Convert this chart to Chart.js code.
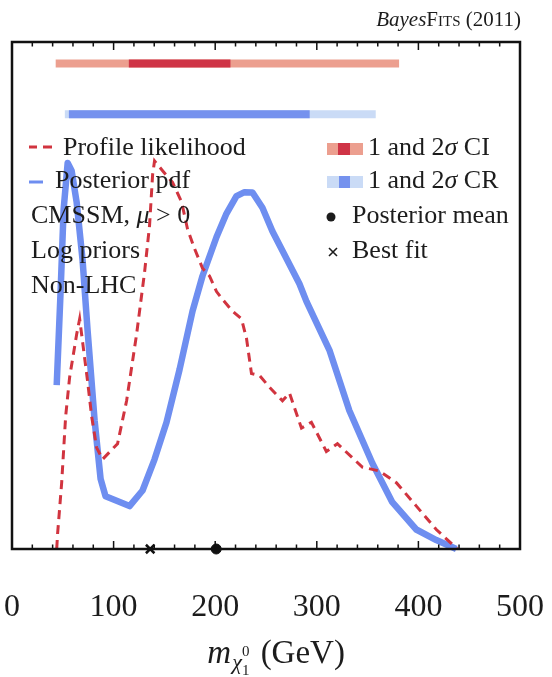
<!DOCTYPE html>
<html>
<head>
<meta charset="utf-8">
<script src="https://cdn.jsdelivr.net/npm/chart.js@4.4.1/dist/chart.umd.min.js"></script>
<style>
  html, body { margin: 0; padding: 0; background: #fff; }
  #wrap { width: 552px; height: 677px; }
</style>
</head>
<body>
<div id="wrap"><canvas id="chart-neutralino" width="552" height="677"></canvas></div>
<script>
// neutralino mass (GeV) and relative profile likelihood
const likelihoodMass = [44, 44.9, 48.9, 52.8, 56.7, 63.6, 66.6, 74.4, 78.4, 83.3, 89.2, 103.9, 112.8, 122.6, 130.5, 135.4, 138.4, 140.3, 148.2, 158, 166.9, 172.8, 179.7, 187.5, 194.4, 201.3, 207.2, 217, 225.9, 230.8, 235.7, 243.6, 253.4, 266.2, 273.1, 284.9, 294.7, 309.4, 320.3, 344.8, 361.6, 378.3, 398, 417.6, 438.3];
const likelihoodValue = [0, 0.04, 0.17, 0.34, 0.44, 0.55, 0.59, 0.43, 0.34, 0.26, 0.23, 0.27, 0.38, 0.55, 0.71, 0.83, 0.96, 0.995, 0.97, 0.94, 0.89, 0.82, 0.77, 0.72, 0.7, 0.66, 0.64, 0.61, 0.59, 0.54, 0.45, 0.445, 0.415, 0.38, 0.4, 0.31, 0.325, 0.25, 0.27, 0.21, 0.2, 0.17, 0.11, 0.05, 0];

// neutralino mass (GeV) and marginal posterior pdf
const posteriorMass = [44, 47.9, 50.8, 54.8, 58.7, 63.6, 69.5, 74.4, 81.3, 87.2, 92.1, 115.7, 128.5, 140.3, 152.1, 164.9, 177.7, 187.5, 201.3, 211.1, 220.9, 228.8, 236.7, 246.5, 256.3, 266.2, 282.9, 289.8, 312.4, 332, 354.7, 374.3, 397.9, 417.6, 437.3];
const posteriorValue = [0.42, 0.665, 0.87, 0.99, 0.97, 0.89, 0.74, 0.56, 0.33, 0.18, 0.135, 0.11, 0.15, 0.23, 0.325, 0.46, 0.61, 0.7, 0.8, 0.86, 0.905, 0.915, 0.914, 0.875, 0.815, 0.765, 0.68, 0.635, 0.51, 0.355, 0.22, 0.12, 0.05, 0.023, 0];

// 1 and 2 sigma intervals [from, to] in GeV
const ci1Sigma = [115, 215];
const ci2Sigma = [43, 381];
const cr1Sigma = [56, 293];
const cr2Sigma = [52, 358];
const ciRow = 1.245;
const crRow = 1.115;

// point estimates (GeV)
const posteriorMean = 201;
const bestFit = 136;

const xTicks = [0, 100, 200, 300, 400, 500];

const SERIF = '"Liberation Serif", "DejaVu Serif", serif';
const RED = "#d1343f";
const BLUE = "#6e8ef0";

function toPoints(xs, ys) {
  return xs.map((x, i) => ({ x: x, y: ys[i] }));
}

function barLine(range, row, color, order) {
  return {
    type: "line",
    data: [{ x: range[0], y: row }, { x: range[1], y: row }],
    borderColor: color,
    borderWidth: 8,
    borderCapStyle: "butt",
    pointRadius: 0,
    order: order,
  };
}

// draws a list of [text, font, dy] pieces one after another
function drawRuns(ctx, x, y, runs) {
  let cx = x;
  runs.forEach(([text, font, dy]) => {
    ctx.font = font;
    ctx.fillText(text, cx, y + (dy || 0));
    cx += ctx.measureText(text).width;
  });
  return cx;
}

function runsWidth(ctx, runs) {
  let w = 0;
  runs.forEach(([text, font]) => {
    ctx.font = font;
    w += ctx.measureText(text).width;
  });
  return w;
}

const decorations = {
  id: "decorations",
  afterDatasetsDraw(chart) {
    const ctx = chart.ctx;
    const area = chart.chartArea;
    const xs = chart.scales.x;
    ctx.save();

    // frame
    ctx.strokeStyle = "#111";
    ctx.lineWidth = 2.5;
    ctx.strokeRect(area.left, area.top, area.right - area.left, area.bottom - area.top);

    // inward ticks on top and bottom
    ctx.lineWidth = 1.5;
    ctx.beginPath();
    for (let v = 0; v <= 500; v += 20) {
      const px = xs.getPixelForValue(v);
      const len = v % 100 === 0 ? 8 : 4.5;
      ctx.moveTo(px, area.top);
      ctx.lineTo(px, area.top + len);
      ctx.moveTo(px, area.bottom);
      ctx.lineTo(px, area.bottom - len);
    }
    ctx.stroke();

    ctx.fillStyle = "#1c1c1c";
    ctx.textBaseline = "alphabetic";
    ctx.textAlign = "left";
    const reg = "26px " + SERIF;
    const ita = "italic 26px " + SERIF;

    // left legend
    ctx.strokeStyle = RED;
    ctx.lineWidth = 3;
    ctx.beginPath();
    ctx.moveTo(29, 147); ctx.lineTo(37, 147);
    ctx.moveTo(43, 147); ctx.lineTo(52, 147);
    ctx.stroke();
    ctx.strokeStyle = BLUE;
    ctx.beginPath();
    ctx.moveTo(29, 182); ctx.lineTo(43, 182);
    ctx.stroke();
    drawRuns(ctx, 63, 155, [["Profile likelihood", reg]]);
    drawRuns(ctx, 55, 188, [["Posterior pdf", reg]]);
    drawRuns(ctx, 31, 223, [["CMSSM, ", reg], ["\u03bc", ita], [" > 0", reg]]);
    drawRuns(ctx, 31, 258, [["Log priors", reg]]);
    drawRuns(ctx, 31, 293, [["Non-LHC", reg]]);

    // right legend swatches
    const sw = [[327, 338, "#ec9f8f"], [338, 350, "#cf3446"], [350, 363, "#ec9f8f"]];
    sw.forEach(([a, b, c]) => { ctx.fillStyle = c; ctx.fillRect(a, 143, b - a, 12); });
    const sb = [[327, 339, "#cadbf6"], [339, 350, "#7592ee"], [350, 363, "#cadbf6"]];
    sb.forEach(([a, b, c]) => { ctx.fillStyle = c; ctx.fillRect(a, 176, b - a, 12); });
    ctx.fillStyle = "#1c1c1c";
    drawRuns(ctx, 368, 155, [["1 and 2", reg], ["\u03c3", ita], [" CI", reg]]);
    drawRuns(ctx, 368, 188, [["1 and 2", reg], ["\u03c3", ita], [" CR", reg]]);
    ctx.beginPath();
    ctx.arc(331, 217, 4.5, 0, Math.PI * 2);
    ctx.fill();
    drawRuns(ctx, 352, 223, [["Posterior mean", reg]]);
    ctx.strokeStyle = "#1c1c1c";
    ctx.lineWidth = 1.6;
    ctx.beginPath();
    ctx.moveTo(329, 248); ctx.lineTo(337, 256);
    ctx.moveTo(337, 248); ctx.lineTo(329, 256);
    ctx.stroke();
    drawRuns(ctx, 352, 258, [["Best fit", reg]]);

    // heading
    const head = [
      ["Bayes", "italic 21px " + SERIF],
      ["F", "21px " + SERIF],
      ["ITS", "15px " + SERIF],
      [" (2011)", "21px " + SERIF],
    ];
    drawRuns(ctx, 521 - runsWidth(ctx, head), 26, head);

    // axis title m_chi
    const big = 33;
    const ttl = [
      ["m", "italic " + big + "px " + SERIF, 0],
      ["\u03c7", "italic 22px " + SERIF, 6],
      ["\u2009", "16px " + SERIF, 0],
      [" (GeV)", big + "px " + SERIF, 0],
    ];
    const tw = runsWidth(ctx, ttl) + 6;
    const tx = 275 - tw / 2;
    const base = 663;
    ctx.font = "italic " + big + "px " + SERIF;
    ctx.fillText("m", tx, base);
    let cx = tx + ctx.measureText("m").width + 1;
    ctx.font = "italic 22px " + SERIF;
    ctx.fillText("\u03c7", cx, base + 6);
    cx += ctx.measureText("\u03c7").width;
    ctx.font = "15px " + SERIF;
    ctx.fillText("0", cx, base - 7);
    ctx.fillText("1", cx, base + 12);
    cx += ctx.measureText("0").width + 3;
    ctx.font = big + "px " + SERIF;
    ctx.fillText(" (GeV)", cx, base);

    ctx.restore();
  },
};

const ctxNeutralino = document.getElementById("chart-neutralino");
new Chart(ctxNeutralino, {
  type: "line",
  data: {
    datasets: [
      {
        label: "Profile likelihood",
        data: toPoints(likelihoodMass, likelihoodValue),
        borderColor: RED,
        borderWidth: 3,
        borderDash: [9, 6],
        pointRadius: 0,
        order: 1,
      },
      {
        label: "Posterior pdf",
        data: toPoints(posteriorMass, posteriorValue),
        borderColor: BLUE,
        borderWidth: 6.5,
        borderJoinStyle: "round",
        pointRadius: 0,
        order: 2,
      },
      barLine(ci2Sigma, ciRow, "#ec9f8f", 4),
      barLine(ci1Sigma, ciRow, "#cf3446", 3),
      barLine(cr2Sigma, crRow, "#cadbf6", 4),
      barLine(cr1Sigma, crRow, "#7592ee", 3),
      {
        label: "Posterior mean",
        data: [{ x: posteriorMean, y: 0 }],
        showLine: false,
        pointStyle: "circle",
        pointRadius: 5,
        pointBackgroundColor: "#111",
        pointBorderColor: "#111",
        order: 0,
      },
      {
        label: "Best fit",
        data: [{ x: bestFit, y: 0 }],
        showLine: false,
        pointStyle: "crossRot",
        pointRadius: 6,
        pointBorderWidth: 2.5,
        pointBorderColor: "#111",
        order: 0,
      },
    ],
  },
  options: {
    responsive: false,
    animation: false,
    devicePixelRatio: 1,
    clip: false,
    layout: { padding: { left: 12, right: 32, top: 42, bottom: 0 } },
    plugins: { legend: { display: false }, tooltip: { enabled: false } },
    scales: {
      x: {
        type: "linear",
        min: 0,
        max: 500,
        afterFit: (scale) => { scale.height = 128; },
        afterBuildTicks: (scale) => { scale.ticks = xTicks.map((v) => ({ value: v })); },
        // tick marks are drawn by the plugin; tickLength only spaces the labels
        grid: { display: false, drawTicks: true, tickLength: 37 },
        border: { display: false },
        ticks: {
          padding: 2,
          maxRotation: 0,
          autoSkip: false,
          color: "#1c1c1c",
          font: { family: SERIF, size: 32 },
        },
      },
      y: {
        type: "linear",
        min: 0,
        max: 1.3,
        display: false,
      },
    },
  },
  plugins: [decorations],
});
</script>
</body>
</html>
